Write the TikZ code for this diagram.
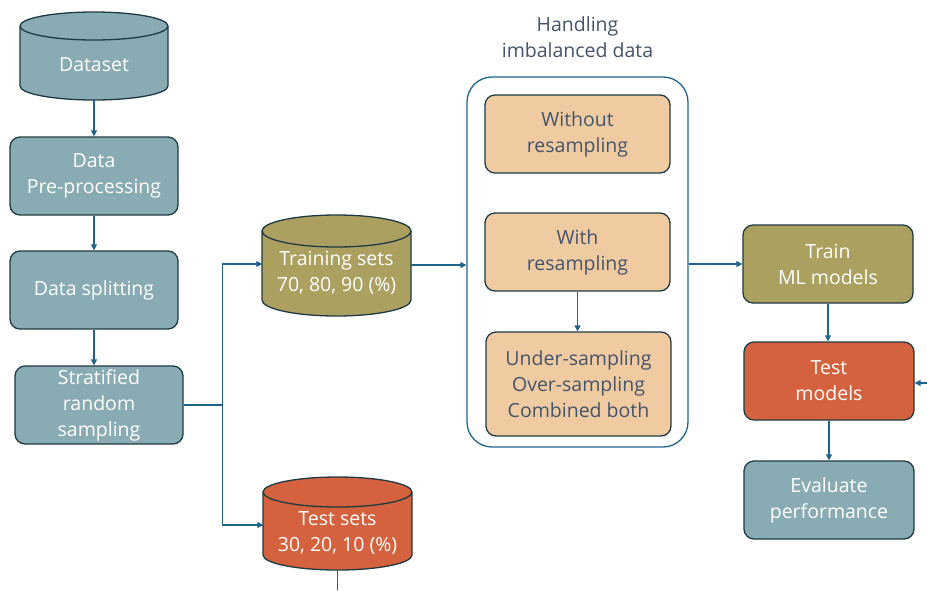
\documentclass[tikz,border=0pt]{standalone}
\usepackage{fontspec}
\setmainfont{Open Sans}
\usetikzlibrary{arrows.meta}
\definecolor{cblue}{RGB}{137,171,180}
\definecolor{colive}{RGB}{172,160,96}
\definecolor{cred}{RGB}{212,98,62}
\definecolor{cpeach}{RGB}{240,203,162}
\definecolor{cedge}{RGB}{30,58,68}
\definecolor{carrow}{RGB}{30,100,140}
\definecolor{cdark}{RGB}{68,84,106}
\newcommand{\mycyl}[6]{%
 \path[fill=#6,draw=cedge,line width=1.3pt] (#1,-#3-#5) -- (#1,-#4+#5) arc[start angle=180,end angle=360,x radius={(#2-#1)/2},y radius=#5] -- (#2,-#3-#5) arc[start angle=0,end angle=180,x radius={(#2-#1)/2},y radius=#5] -- cycle;
 \draw[draw=cedge,line width=1.3pt] (#1,-#3-#5) arc[start angle=180,end angle=360,x radius={(#2-#1)/2},y radius=#5];
}
\tikzset{
 txt/.style={font=\fontsize{19.5}{26}\selectfont, align=center, inner sep=0pt},
 box/.style={txt, draw=cedge, line width=1.3pt, rounded corners=10pt, minimum width=168pt, minimum height=78pt},
 bluebox/.style={box, fill=cblue, text=white},
 olivebox/.style={box, fill=colive, text=white},
 redbox/.style={box, fill=cred, text=white},
 peachbox/.style={box, fill=cpeach, text=cdark, minimum width=185pt},
 cyltxt/.style={txt, text=white, minimum width=148pt},
 conn/.style={draw=carrow, line width=1.3pt},
 arr/.style={conn, -{Triangle[width=6pt,length=6pt]}},
}
\begin{document}
\begin{tikzpicture}[x=1pt,y=1pt]
\useasboundingbox (0,0) rectangle (927,-590);
% cylinders
\mycyl{20}{168}{12}{100}{14}{cblue}
\mycyl{262}{411}{215}{316}{16}{colive}
\mycyl{263}{412}{477}{570}{15}{cred}
\node[cyltxt, minimum height=70pt] (ds) at (94,-65) {Dataset};
\node[cyltxt, minimum height=86pt] (tr) at (336.5,-273) {Training sets\\70, 80, 90 (\%)};
\node[cyltxt, minimum height=74pt] (ts) at (337.5,-533) {Test sets\\30, 20, 10 (\%)};
% left boxes
\node[bluebox] (pre) at (94,-176) {Data\\Pre-processing};
\node[bluebox] (spl) at (94,-290) {Data splitting};
\node[bluebox] (srs) at (99,-405) {Stratified\\random\\sampling};
% container
\node[draw=carrow, line width=1.3pt, rounded corners=25pt, minimum width=221pt, minimum height=370pt, inner sep=0pt] (hib) at (577.5,-262) {};
\node[txt, text=cdark] (title) at (577.5,-37) {Handling\\imbalanced data};
\node[peachbox] (wo) at (577.5,-134) {Without\\resampling};
\node[peachbox] (wr) at (577.5,-252) {With\\resampling};
\node[peachbox, minimum height=104pt] (us) at (578.5,-384) {Under-sampling\\Over-sampling\\Combined both};
% right boxes
\node[olivebox, minimum width=170pt] (trn) at (828,-264) {Train\\ML models};
\node[redbox, minimum width=170pt] (tm) at (829,-381) {Test\\models};
\node[bluebox, minimum width=170pt] (ev) at (829,-500) {Evaluate\\performance};
% connectors
\draw[arr] (ds.south) -- (pre.north);
\draw[arr] (pre.south) -- (spl.north);
\draw[arr] (spl.south) -- (spl.south |- srs.north);
\draw[conn] (srs.east) -- ++(39,0) coordinate (j);
\draw[arr] (j) |- ([yshift=9pt]tr.west);
\draw[arr] (j) |- ([yshift=8pt]ts.west);
\draw[arr] ([yshift=8pt]tr.east) -- ([yshift=8pt]tr.east -| hib.west);
\draw[arr] (wr.south) -- (wr.south |- us.north);
\draw[arr] (hib.east |- trn.west) -- (trn.west);
\draw[arr] (trn.south) -- (trn.south |- tm.north);
\draw[arr] (tm.south) -- (ev.north);
\coordinate (tsout) at (337.5,-590);
\draw[conn] (ts.south) -- (tsout);
\coordinate (tmin) at (927,-383);
\draw[arr] (tmin) -- (tmin -| tm.east);
\end{tikzpicture}
\end{document}
